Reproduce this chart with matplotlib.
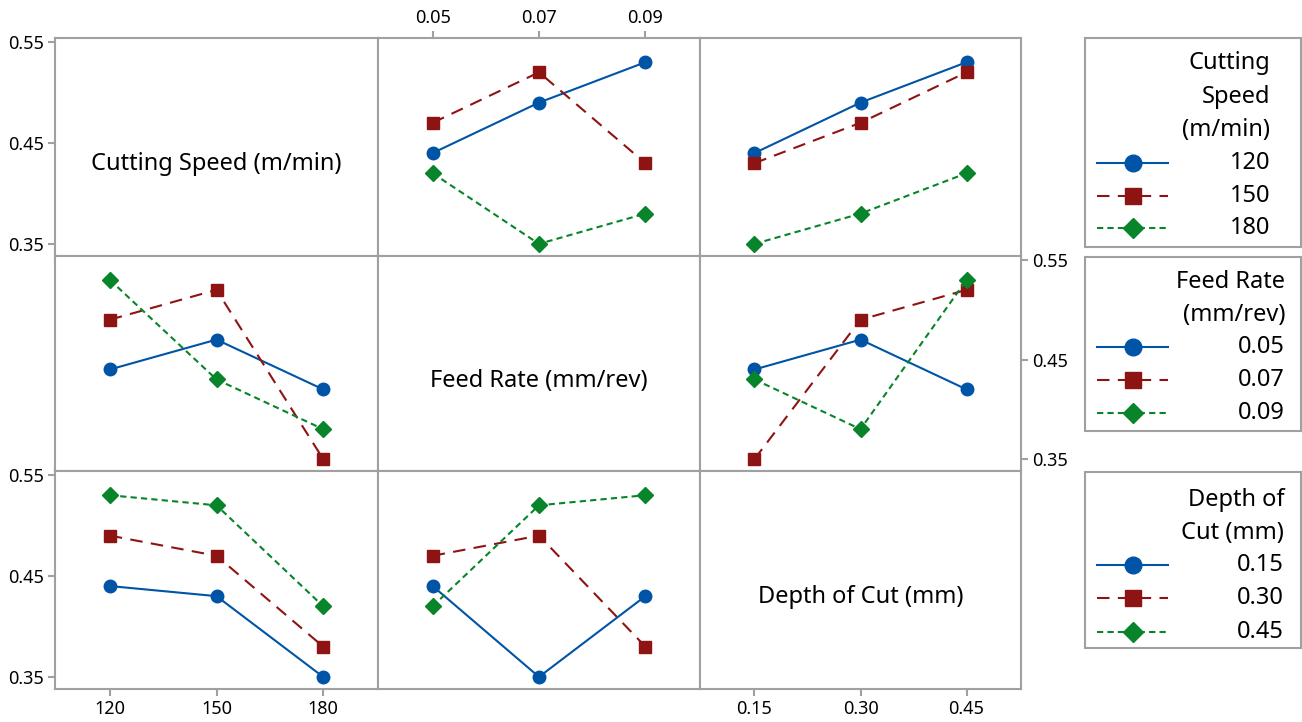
import matplotlib.pyplot as plt
from matplotlib.patches import Rectangle

plt.rcParams['font.family'] = ['Noto Sans', 'DejaVu Sans']

# factor levels and tick labels
speed_levels = [120, 150, 180]
feed_levels = [0.05, 0.07, 0.09]
depth_levels = [0.15, 0.30, 0.45]
speed_labels = ['120', '150', '180']
feed_labels = ['0.05', '0.07', '0.09']
depth_labels = ['0.15', '0.30', '0.45']

factor_names = ['Cutting Speed (m/min)', 'Feed Rate (mm/rev)', 'Depth of Cut (mm)']
legend_titles = [['Cutting', 'Speed', '(m/min)'], ['Feed Rate', '(mm/rev)'], ['Depth of', 'Cut (mm)']]

# mean response; each inner list is one level of the grouping factor
feed_by_speed = [[0.44, 0.49, 0.53], [0.47, 0.52, 0.43], [0.42, 0.35, 0.38]]
depth_by_speed = [[0.44, 0.49, 0.53], [0.43, 0.47, 0.52], [0.35, 0.38, 0.42]]
speed_by_feed = [[0.44, 0.47, 0.42], [0.49, 0.52, 0.35], [0.53, 0.43, 0.38]]
depth_by_feed = [[0.44, 0.47, 0.42], [0.35, 0.49, 0.52], [0.43, 0.38, 0.53]]
speed_by_depth = [[0.44, 0.43, 0.35], [0.49, 0.47, 0.38], [0.53, 0.52, 0.42]]
feed_by_depth = [[0.44, 0.35, 0.43], [0.47, 0.49, 0.38], [0.42, 0.52, 0.53]]

y_ticks = [0.35, 0.45, 0.55]
y_ticklabels = ['0.35', '0.45', '0.55']

levels = [speed_levels, feed_levels, depth_levels]
level_labels = [speed_labels, feed_labels, depth_labels]
panels = {(0, 1): feed_by_speed, (0, 2): depth_by_speed,
          (1, 0): speed_by_feed, (1, 2): depth_by_feed,
          (2, 0): speed_by_depth, (2, 1): feed_by_depth}

blue, red, green = '#0054a6', '#8e1414', '#08842a'
grey = '#a0a0a0'
styles = [dict(color=blue, ls='-', marker='o', ms=9),
          dict(color=red, ls=(0, (6, 4)), marker='s', ms=8),
          dict(color=green, ls=(0, (3, 2)), marker='D', ms=8)]
leg_ms = [12, 11, 10.5]

W, H = 1302, 722
fig = plt.figure(figsize=(W / 100, H / 100), dpi=100)

col_edges = [55, 378, 700, 1021]
row_edges = [38, 256, 471, 689]

def rect(x0, y0, x1, y1):
    return [x0 / W, 1 - y1 / H, (x1 - x0) / W, (y1 - y0) / H]

for r in range(3):
    for c in range(3):
        ax = fig.add_axes(rect(col_edges[c], row_edges[r], col_edges[c + 1], row_edges[r + 1]))
        lv = levels[c]
        pad = (lv[-1] - lv[0]) * 0.257
        ax.set_xlim(lv[0] - pad, lv[-1] + pad)
        ax.set_ylim(0.338, 0.554)
        for s in ax.spines.values():
            s.set_color(grey)
            s.set_linewidth(1.5)
        ax.set_xticks(lv)
        ax.set_xticklabels(level_labels[c])
        ax.set_yticks(y_ticks)
        ax.set_yticklabels(y_ticklabels)
        ax.tick_params(left=False, bottom=False, labelleft=False, labelbottom=False,
                       length=5, width=1.5, color=grey, labelsize=13, pad=3)
        if r == c:
            ax.text(0.5, 0.42, factor_names[r], transform=ax.transAxes,
                    ha='center', va='center', fontsize=17)
        else:
            for k, yv in enumerate(panels[(r, c)]):
                ax.plot(lv, yv, lw=1.5, **styles[k])
        if c == 0 and r in (0, 2):
            ax.tick_params(left=True, labelleft=True)
        if r == 0 and c == 1:
            ax.tick_params(top=True, labeltop=True)
        if r == 1 and c == 2:
            ax.tick_params(right=True, labelright=True)
        if r == 2 and c in (0, 2):
            ax.tick_params(bottom=True, labelbottom=True)

# legends, drawn in pixel space on an overlay
lax = fig.add_axes([0, 0, 1, 1])
lax.set_xlim(0, W)
lax.set_ylim(H, 0)
lax.axis('off')

boxes = [(38, 247), (257, 431), (472, 648)]
title_y = [[63, 97, 130], [282, 315], [500, 533]]
entry_y = [[163, 196, 228], [347, 380, 413], [565, 598, 632]]
text_x = [1270, 1285, 1284]

for g in range(3):
    y0, y1 = boxes[g]
    lax.add_patch(Rectangle((1085, y0), 1301 - 1085, y1 - y0, fill=False,
                            ec=grey, lw=1.5))
    for t, ty in zip(legend_titles[g], title_y[g]):
        lax.text(text_x[g], ty, t, ha='right', va='center', fontsize=17)
    for k, ey in enumerate(entry_y[g]):
        st = dict(styles[k])
        st['ms'] = leg_ms[k]
        lax.plot([1097, 1168], [ey, ey], lw=1.5, markevery=[], **st)
        lax.plot([1133], [ey], lw=0, marker=st['marker'], ms=st['ms'], color=st['color'])
        lax.text(text_x[g], ey, level_labels[g][k], ha='right', va='center', fontsize=17)

fig.savefig('out.png', dpi=100)
